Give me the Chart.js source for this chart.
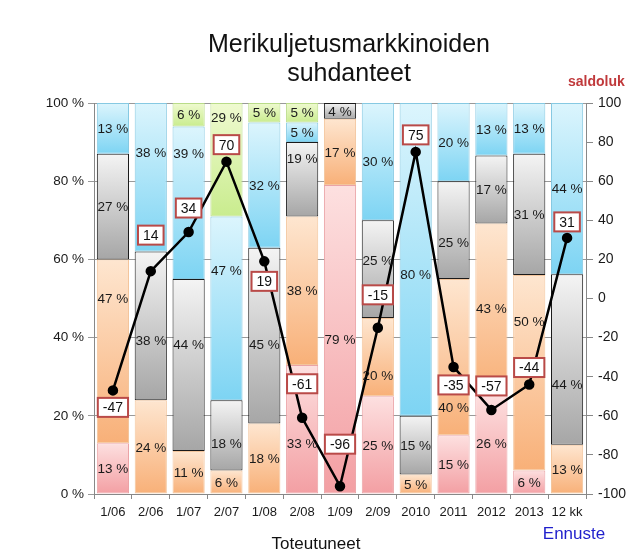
<!DOCTYPE html>
<html>
<head>
<meta charset="utf-8">
<script src="https://cdn.jsdelivr.net/npm/chart.js@4/dist/chart.umd.min.js"></script>
<style>
  html, body { margin: 0; padding: 0; background: #fff; }
  #wrap { width: 627px; height: 560px; }
</style>
</head>
<body>
<div id="wrap"><canvas id="myChart" width="627" height="560"></canvas></div>
<script>
const categories = ['1/06','2/06','1/07','2/07','1/08','2/08','1/09','2/09','2010','2011','2012','2013','12 kk'];
// osuudet %, alhaalta ylös
const pinkShare   = [13, 0, 0, 0, 0, 33, 79, 25, 0, 15, 25.8, 6, 0];
const orangeShare = [47, 24, 11, 6, 18, 38, 17, 20, 5, 40, 43.4, 50, 12.6];
const grayShare   = [27, 38, 44, 18, 45, 19, 4, 25, 15, 25, 17.4, 31, 43.6];
const blueShare   = [13, 38, 39, 47, 32, 5, 0, 30, 80, 20, 13.4, 13, 43.8];
const greenShare  = [0, 0, 6, 29, 5, 5, 0, 0, 0, 0, 0, 0, 0];
const saldo = [-47, 14, 34, 70, 19, -61, -96, -15, 75, -35, -57, -44, 31];

const shares = [pinkShare, orangeShare, grayShare, blueShare, greenShare];
const fills = [
  ['#fde0e0', '#f39fa3', '#eba3a6'],
  ['#fee6d0', '#f8b078', '#f3c59c'],
  ['#f4f4f4', '#a6a6a6', '#1a1a1a'],
  ['#dcf5fd', '#7dd4f3', '#86c9e2'],
  ['#effad0', '#c9ec8e', '#b9dc88']
];
// label box offset from point (px)
const boxDy = [17, -36, -24, -17, 20, -34, -42, -33, -17, 18, -24, -17, -16];
// manual nudges of % labels: [series, category, dy px]
const labelNudge = [
  [1, 0, -53], [3, 1, -25], [2, 1, 14], [3, 2, -49], [2, 2, -21], [2, 4, 9],
  [3, 3, -38], [4, 3, -42], [2, 3, 8], [0, 5, 14], [2, 5, -21], [1, 7, 18],
  [2, 7, -9], [3, 8, 15], [2, 9, 12], [1, 9, 50], [1, 11, -52], [2, 12, 25]
];

function gradFill(di) {
  return function (c) {
    const chart = c.chart;
    if (!chart.chartArea) return fills[di][1];
    const y = chart.scales.y;
    let base = 0;
    for (let k = 0; k < di; k++) base += shares[k][c.dataIndex];
    const v = shares[di][c.dataIndex];
    const y0 = y.getPixelForValue(base + v);
    const y1 = y.getPixelForValue(base);
    if (!(y1 > y0)) return fills[di][1];
    const g = chart.ctx.createLinearGradient(0, y0, 0, y1);
    g.addColorStop(0, fills[di][0]);
    g.addColorStop(1, fills[di][1]);
    return g;
  };
}

const barSets = shares.map((s, di) => ({
  type: 'bar',
  data: s,
  yAxisID: 'y',
  backgroundColor: gradFill(di),
  borderColor: fills[di][2],
  borderWidth: 1,
  borderSkipped: false,
  barPercentage: 0.85,
  categoryPercentage: 1,
  order: 1
}));

const labelPlugin = {
  id: 'labels',
  afterDatasetsDraw(chart) {
    const ctx = chart.ctx;
    ctx.save();
    ctx.font = '13.5px "Liberation Sans", Arial, sans-serif';
    ctx.textAlign = 'center';
    ctx.textBaseline = 'middle';
    ctx.fillStyle = '#1a1a1a';
    shares.forEach((s, di) => {
      chart.getDatasetMeta(di).data.forEach((bar, i) => {
        if (!s[i]) return;
        const n = labelNudge.find(a => a[0] === di && a[1] === i);
        const dy = n ? n[2] : 0;
        ctx.fillText(Math.round(s[i]) + ' %', bar.x, (bar.y + bar.base) / 2 + 1 + dy);
      });
    });
    ctx.font = '14px "Liberation Sans", Arial, sans-serif';
    chart.getDatasetMeta(5).data.forEach((pt, i) => {
      const txt = String(saldo[i]);
      const w = ctx.measureText(txt).width + 10;
      const h = 19;
      const cx = pt.x, cy = pt.y + boxDy[i];
      ctx.fillStyle = '#fff';
      ctx.fillRect(cx - w / 2, cy - h / 2, w, h);
      ctx.strokeStyle = '#b94a48';
      ctx.lineWidth = 2;
      ctx.strokeRect(cx - w / 2, cy - h / 2, w, h);
      ctx.fillStyle = '#111';
      ctx.fillText(txt, cx, cy + 1);
    });
    ctx.restore();
  },
  afterDraw(chart) {
    const ctx = chart.ctx;
    ctx.save();
    ctx.textAlign = 'center';
    ctx.textBaseline = 'middle';
    ctx.fillStyle = '#111';
    ctx.font = '25px "Liberation Sans", Arial, sans-serif';
    ctx.fillText('Merikuljetusmarkkinoiden', 349, 45);
    ctx.fillText('suhdanteet', 349, 74);
    ctx.font = '17px "Liberation Sans", Arial, sans-serif';
    ctx.fillText('Toteutuneet', 316, 544);
    ctx.fillStyle = '#1f1fcc';
    ctx.fillText('Ennuste', 574, 534);
    ctx.fillStyle = '#c0393b';
    ctx.font = 'bold 14px "Liberation Sans", Arial, sans-serif';
    ctx.textAlign = 'left';
    ctx.fillText('saldoluk', 568, 82);
    ctx.restore();
  }
};

const ctx = document.getElementById('myChart');
new Chart(ctx, {
  data: {
    labels: categories,
    datasets: [...barSets, {
      type: 'line',
      data: saldo,
      yAxisID: 'y2',
      borderColor: '#000',
      borderWidth: 2.5,
      pointBackgroundColor: '#000',
      pointBorderColor: '#000',
      pointRadius: 4,
      tension: 0,
      order: 0
    }]
  },
  options: {
    responsive: false,
    animation: false,
    layout: { padding: { top: 103, bottom: 42, left: 0, right: 0 } },
    plugins: { legend: { display: false }, tooltip: { enabled: false } },
    scales: {
      x: {
        stacked: true,
        grid: { drawOnChartArea: false, color: '#888', tickLength: 5, offset: true },
        border: { color: '#888' },
        ticks: { color: '#1a1a1a', font: { size: 13, family: '"Liberation Sans", Arial' }, padding: 6, maxRotation: 0, autoSkip: false },
        afterFit(s) { s.height = 24; }
      },
      y: {
        stacked: true,
        position: 'left',
        min: 0, max: 100,
        ticks: { stepSize: 20, color: '#1a1a1a', padding: 4, font: { size: 13.5, family: '"Liberation Sans", Arial' }, callback: v => v + ' %' },
        grid: { color: '#999', tickLength: 6 },
        border: { color: '#888' },
        afterFit(s) { s.width = 94; }
      },
      y2: {
        position: 'right',
        min: -100, max: 100,
        ticks: { stepSize: 20, color: '#1a1a1a', padding: 5, font: { size: 14, family: '"Liberation Sans", Arial' } },
        grid: { drawOnChartArea: false, color: '#888', tickLength: 7 },
        border: { color: '#888' },
        afterFit(s) { s.width = 41; }
      }
    }
  },
  plugins: [labelPlugin]
});
</script>
</body>
</html>
